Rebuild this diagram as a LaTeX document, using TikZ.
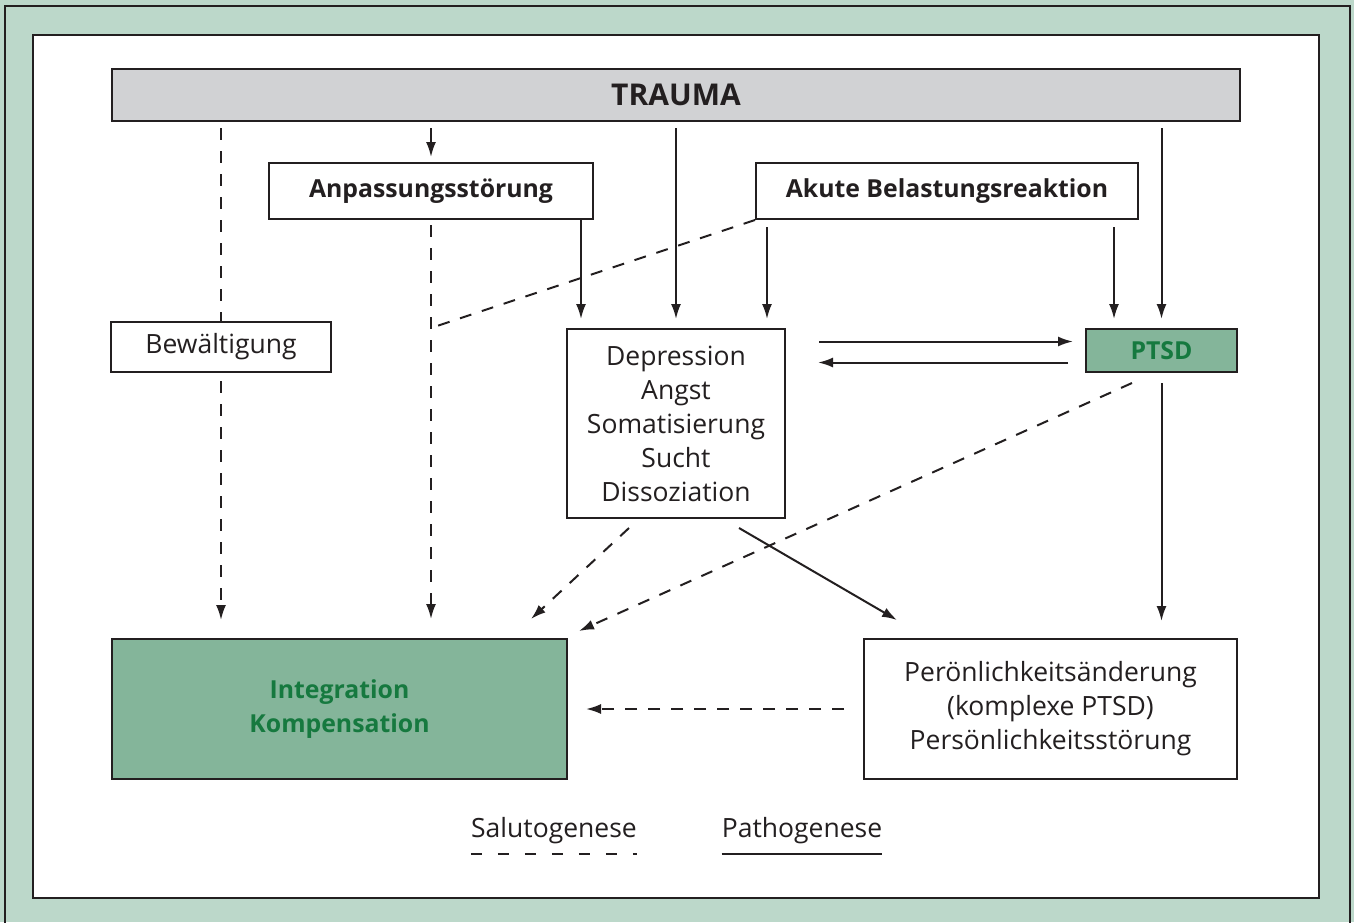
\documentclass[tikz,border=0pt]{standalone}
\usepackage{fontspec}
\setmainfont{Open Sans}
\usetikzlibrary{arrows.meta,positioning,calc}
\definecolor{framegreen}{HTML}{BCD8CA}
\definecolor{boxgreen}{HTML}{84B59A}
\definecolor{textgreen}{HTML}{16793F}
\definecolor{traumagrey}{HTML}{D1D2D4}
\definecolor{inkgrey}{HTML}{231F20}

\begin{document}
\begin{tikzpicture}[x=1pt, y=-1pt,
  box/.style={draw=inkgrey, line width=2pt, fill=white, rectangle,
              inner sep=0pt, align=center, text=inkgrey,
              font=\fontsize{26.5}{34}\selectfont},
  keybox/.style={box, font=\fontsize{24.8}{34}\selectfont\bfseries},
  greenbox/.style={keybox, fill=boxgreen, text=textgreen},
  arr/.style={-{Latex[length=15pt, width=10pt]}, line width=2pt, inkgrey},
  dashline/.style={line width=2pt, inkgrey, dash pattern=on 12pt off 11pt},
  legend/.style={inner sep=0pt, text=inkgrey, font=\fontsize{26.5}{34}\selectfont},
]
  \useasboundingbox (0,0) rectangle (1354,922);

  %% Frame
  \fill[framegreen] (0,0) rectangle (1354,922);
  \draw[inkgrey, line width=1.5pt] (5,6) rectangle (1350,940);
  \draw[inkgrey, line width=2pt, fill=white] (33,35) rectangle (1319,898);

  %% Top bar
  \node[keybox, fill=traumagrey, minimum width=1128, minimum height=52,
        font=\fontsize{30}{34}\selectfont\bfseries]
    (trauma) at (676,95) {TRAUMA};

  %% Dashed line behind the Bewältigung box
  \coordinate (bewx) at (221,347);
  \draw[dashline, arr, shorten <=6pt, shorten >=19pt]
    (trauma.south -| bewx) -- (bewx |- 0,639);

  %% Reaction boxes
  \node[keybox, minimum width=324, minimum height=56] (anp) at (431,191)
    {Anpassungsstörung};
  \node[keybox, minimum width=382, minimum height=56] (akute) at (947,191)
    {Akute Belastungsreaktion};
  \node[box, minimum width=220, minimum height=50] (bew) at (bewx)
    {Bewältigung};
  \node[box, minimum width=218, minimum height=189] (dep) at (676,423.5)
    {Depression\\Angst\\Somatisierung\\Sucht\\Dissoziation};
  \node[greenbox, minimum width=151, minimum height=43] (ptsd) at (1161.5,350.5)
    {PTSD};

  %% Outcome boxes
  \node[greenbox, minimum width=455, minimum height=140] (integ) at (339.5,709)
    {Integration\\Kompensation};
  \node[box, minimum width=373, minimum height=140] (pers) at (1050.5,709)
    {Perönlichkeitsänderung\\(komplexe PTSD)\\Persönlichkeitsstörung};

  %% Arrows from the trauma bar
  \draw[arr, shorten <=6pt, shorten >=5pt] (trauma.south -| anp) -- (anp.north);
  \draw[arr, shorten <=6pt, shorten >=9pt] (trauma.south -| dep) -- (dep.north);
  \draw[arr, shorten <=6pt, shorten >=9pt] (trauma.south -| ptsd) -- (ptsd.north);

  %% Arrows from the reaction boxes
  \coordinate (join) at (anp.south |- dep.north);
  \draw[dashline, arr, shorten <=5pt, shorten >=19pt] (anp.south) -- (integ.north -| anp);
  \draw[dashline] (akute.south west) -- (join);
  \draw[arr, shorten >=9pt] ([xshift=-13pt]anp.south east)
    -- ([xshift=-13pt]anp.south east |- dep.north);
  \draw[arr, shorten <=7pt, shorten >=9pt] ([xshift=12pt]akute.south west)
    -- ([xshift=12pt]akute.south west |- dep.north);
  \draw[arr, shorten <=7pt, shorten >=9pt] ([xshift=-25pt]akute.south east)
    -- ([xshift=-25pt]akute.south east |- ptsd.north);

  %% Between Depression and PTSD
  \draw[arr, shorten <=33pt, shorten >=12pt] ([yshift=9pt]ptsd.west -| dep.east)
    -- ([yshift=9pt]ptsd.west);
  \draw[arr, shorten <=17pt, shorten >=32pt] ([yshift=-12pt]ptsd.west)
    -- ([yshift=-12pt]ptsd.west -| dep.east);

  %% Towards the outcomes
  \draw[arr, shorten <=10pt, shorten >=17pt] (ptsd.south) -- (pers.north -| ptsd);
  \draw[dashline, arr] ([xshift=47pt, yshift=-10pt]ptsd.south west)
    -- ([xshift=11pt, yshift=7pt]integ.north east);
  \draw[dashline, arr] ([xshift=63pt, yshift=-9pt]dep.south west)
    -- ([xshift=-37pt, yshift=19pt]integ.north east);
  \draw[arr] ([xshift=-47pt, yshift=-9pt]dep.south east)
    -- ([xshift=34pt, yshift=18pt]pers.north west);
  \draw[dashline, arr, shorten <=19pt, shorten >=18pt] (pers.west) -- (integ.east);

  %% Legend
  \node[legend, anchor=base] (salu) at (554,837) {Salutogenese};
  \node[legend, anchor=base] (patho) at (802,837) {Pathogenese};
  \draw[dashline, dash pattern=on 11pt off 16pt] ([yshift=-17pt]salu.base west)
    -- ([yshift=-17pt]salu.base east);
  \draw[line width=2pt, inkgrey] ([yshift=-17pt]patho.base west)
    -- ([yshift=-17pt]patho.base east);
\end{tikzpicture}
\end{document}
